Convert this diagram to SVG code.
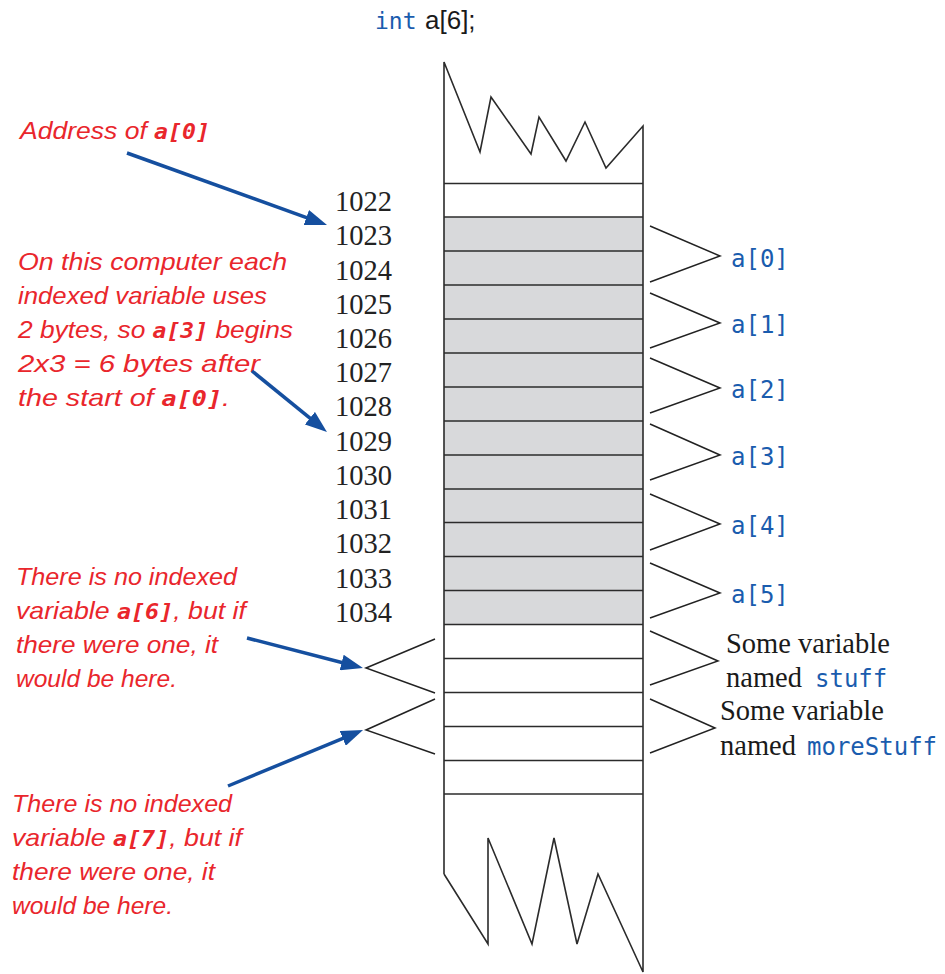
<svg xmlns="http://www.w3.org/2000/svg" width="945" height="974" viewBox="0 0 945 974">
<style>
.mem{fill:none;stroke:#2b2b2b;stroke-width:1.6;stroke-linejoin:miter}
.cell{stroke:#2b2b2b;stroke-width:1.6}
.br{fill:none;stroke:#222;stroke-width:1.5}
.num{font-family:"Liberation Serif",serif;font-size:28.5px;fill:#222}
.ser{font-family:"Liberation Serif",serif;font-size:28.5px;fill:#1a1a1a}
.code{font-family:"DejaVu Sans Mono",monospace;font-size:24px;fill:#1a5cae}
.note{font-family:"Liberation Sans",sans-serif;font-style:italic;font-size:24px;fill:#e9262c}
.nc{font-family:"DejaVu Sans Mono",monospace;font-weight:bold;font-style:italic;font-size:21px}
.arr{fill:none;stroke:#154f9f;stroke-width:3.5}
</style>
<defs>
<marker id="ah" markerUnits="userSpaceOnUse" markerWidth="24" markerHeight="16" refX="12" refY="8" orient="auto">
<path d="M0,0 L22,8 L0,16 z" fill="#154f9f"/>
</marker>
</defs>

<g id="title">
<text x="375" y="29" font-family="DejaVu Sans Mono,monospace" font-size="23" fill="#1a5cae">int</text>
<text x="425" y="29" font-family="Liberation Sans,sans-serif" font-size="26" fill="#1a1a1a">a[6];</text>
</g>

<g id="memory">
<rect x="444" y="217" width="199" height="407.5" fill="#d8d9db"/>
<polyline class="mem" points="444,874 444,62 480,152 491,97 531,154 539,117 566,161 585,122 606,168 643,126 643,972 598,874 577,944 554,838 532,944 488,838 488,944 444,874"/>
<g class="cell">
<line x1="444" y1="183.5" x2="643" y2="183.5"/>
<line x1="444" y1="217" x2="643" y2="217"/>
<line x1="444" y1="251" x2="643" y2="251"/>
<line x1="444" y1="285" x2="643" y2="285"/>
<line x1="444" y1="319" x2="643" y2="319"/>
<line x1="444" y1="353" x2="643" y2="353"/>
<line x1="444" y1="387" x2="643" y2="387"/>
<line x1="444" y1="421" x2="643" y2="421"/>
<line x1="444" y1="455" x2="643" y2="455"/>
<line x1="444" y1="489" x2="643" y2="489"/>
<line x1="444" y1="522.5" x2="643" y2="522.5"/>
<line x1="444" y1="556.5" x2="643" y2="556.5"/>
<line x1="444" y1="590.5" x2="643" y2="590.5"/>
<line x1="444" y1="624.5" x2="643" y2="624.5"/>
<line x1="444" y1="658.5" x2="643" y2="658.5"/>
<line x1="444" y1="692.5" x2="643" y2="692.5"/>
<line x1="444" y1="726.5" x2="643" y2="726.5"/>
<line x1="444" y1="760.5" x2="643" y2="760.5"/>
<line x1="444" y1="794" x2="643" y2="794"/>
</g>
</g>

<g id="addresses" class="num">
<text x="335" y="211">1022</text>
<text x="335" y="245">1023</text>
<text x="335" y="279.5">1024</text>
<text x="335" y="313.5">1025</text>
<text x="335" y="348">1026</text>
<text x="335" y="382">1027</text>
<text x="335" y="416">1028</text>
<text x="335" y="450.5">1029</text>
<text x="335" y="484.5">1030</text>
<text x="335" y="519">1031</text>
<text x="335" y="553">1032</text>
<text x="335" y="587.5">1033</text>
<text x="335" y="621.5">1034</text>
</g>

<g id="elements">
<polyline class="br" points="650,226 720,256 650,282"/>
<polyline class="br" points="650,293 720,323 650,348"/>
<polyline class="br" points="650,358 720,388 650,413"/>
<polyline class="br" points="650,424 720,455 650,480"/>
<polyline class="br" points="650,494 720,524 650,550"/>
<polyline class="br" points="650,563 720,593 650,618"/>
<text class="code" x="731" y="267">a[0]</text>
<text class="code" x="731" y="333">a[1]</text>
<text class="code" x="731" y="398">a[2]</text>
<text class="code" x="731" y="465">a[3]</text>
<text class="code" x="731" y="534">a[4]</text>
<text class="code" x="731" y="603">a[5]</text>
</g>

<g id="stuff">
<polyline class="br" points="650,631 718,661 650,685"/>
<text class="ser" x="726" y="653">Some variable</text>
<text class="ser" x="726" y="687">named <tspan class="code" font-size="25" x="815">stuff</tspan></text>
</g>

<g id="moreStuff">
<polyline class="br" points="650,699 715,728 650,753"/>
<text class="ser" x="720" y="720">Some variable</text>
<text class="ser" x="720" y="755">named <tspan class="code" font-size="25.5" x="807">moreStuff</tspan></text>
</g>

<g id="a6-slot">
<polyline class="br" points="435,639 366,668 435,693"/>
</g>
<g id="a7-slot">
<polyline class="br" points="435,699 366,730 435,754"/>
</g>

<g id="note-address" class="note">
<text x="20" y="139" textLength="190" lengthAdjust="spacingAndGlyphs">Address of <tspan class="nc">a[0]</tspan></text>
</g>

<g id="note-bytes" class="note">
<text x="18" y="270" textLength="269" lengthAdjust="spacingAndGlyphs">On this computer each</text>
<text x="18" y="304" textLength="249" lengthAdjust="spacingAndGlyphs">indexed variable uses</text>
<text x="18" y="338" textLength="275" lengthAdjust="spacingAndGlyphs">2 bytes, so <tspan class="nc">a[3]</tspan> begins</text>
<text x="18" y="372" textLength="242" lengthAdjust="spacingAndGlyphs">2x3 = 6 bytes after</text>
<text x="18" y="406" textLength="212" lengthAdjust="spacingAndGlyphs">the start of <tspan class="nc">a[0]</tspan>.</text>
</g>

<g id="note-a6" class="note">
<text x="16" y="585" textLength="221" lengthAdjust="spacingAndGlyphs">There is no indexed</text>
<text x="16" y="619" textLength="230" lengthAdjust="spacingAndGlyphs">variable <tspan class="nc">a[6]</tspan>, but if</text>
<text x="16" y="653" textLength="202" lengthAdjust="spacingAndGlyphs">there were one, it</text>
<text x="16" y="687" textLength="161" lengthAdjust="spacingAndGlyphs">would be here.</text>
</g>

<g id="note-a7" class="note">
<text x="12" y="812" textLength="220" lengthAdjust="spacingAndGlyphs">There is no indexed</text>
<text x="12" y="846" textLength="230" lengthAdjust="spacingAndGlyphs">variable <tspan class="nc">a[7]</tspan>, but if</text>
<text x="12" y="880" textLength="203" lengthAdjust="spacingAndGlyphs">there were one, it</text>
<text x="12" y="914" textLength="161" lengthAdjust="spacingAndGlyphs">would be here.</text>
</g>

<g id="connectors">
<line class="arr" x1="127" y1="153" x2="317.6" y2="221.6" marker-end="url(#ah)"/>
<line class="arr" x1="252" y1="371" x2="319.2" y2="425.7" marker-end="url(#ah)"/>
<line class="arr" x1="247" y1="638" x2="353.3" y2="665.5" marker-end="url(#ah)"/>
<line class="arr" x1="228" y1="786" x2="353.8" y2="733.8" marker-end="url(#ah)"/>
</g>
</svg>
